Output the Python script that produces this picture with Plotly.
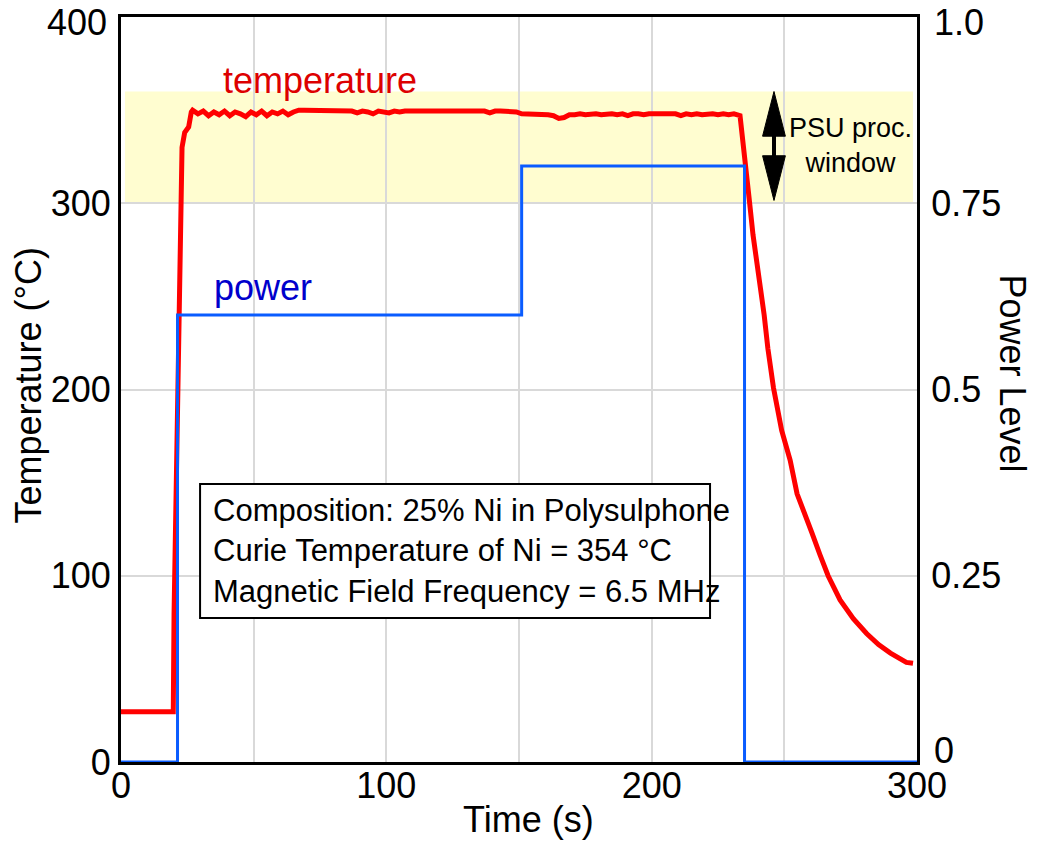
import plotly.graph_objects as go

# ---------------- data ----------------
rise_time = [0, 10, 19.7, 20.0, 20.8, 21.5, 22.3, 23.0, 24.0, 25.5, 26.5]
rise_vals = [27, 27, 27, 80, 150, 220, 290, 330, 338, 341, 349]

plateau_time = [27, 29, 31, 33, 35, 37, 39, 41, 43, 45, 47, 49, 51, 53, 55, 57, 59,
                61, 63, 65, 67, 69, 71, 73, 75, 77, 79, 81, 83, 85, 87, 89, 91, 93,
                95, 97, 99, 101, 103, 105, 107, 109, 111, 113, 115, 117, 119, 121,
                123, 125, 127, 129, 131, 133, 135, 137, 139, 141, 143, 145, 147, 149,
                151, 153, 155, 157, 159, 161, 163, 165, 167, 169, 171, 173, 175, 177,
                179, 181, 183, 185, 187, 189, 191, 193, 195, 197, 199, 201, 203, 205,
                207, 209, 211, 213, 215, 217, 219, 221, 223, 225, 227, 229, 231]
plateau_vals = [350, 348, 349.5, 347, 349, 347.5, 349.5, 347, 349, 348, 346.5, 349,
                347.5, 349.5, 347, 349, 348, 349.5, 347.5, 349, 350, 350, 350, 350,
                350, 350, 350, 350, 350, 350, 349.5, 348.5, 349.5, 349, 348, 349.5,
                349, 348.5, 349.5, 349, 349.5, 349.5, 349.5, 349.5, 349.5, 349.5,
                349.5, 349.5, 349.5, 349, 349.5, 349.5, 349.5, 349.5, 349.5, 349.5,
                348.5, 349.5, 349.5, 349.5, 349.5, 349, 348, 348, 347.5, 347.5, 348,
                347.5, 347, 345.5, 346, 347.5, 347.5, 348, 347.5, 348, 348, 347.5,
                348, 348, 347.5, 348, 347, 348, 348, 347.5, 348, 348, 347.5, 348,
                347.5, 348, 347, 348, 347.5, 348, 347.5, 348, 348, 347.5, 348,
                347.5, 348]

decay_time = [233.3, 235.2, 236.8, 238.2, 240.5, 242.4, 243.8, 245.9, 249, 252.2,
              254.8, 257.5, 260.4, 263.5, 266.5, 271, 276, 281, 285.5, 290, 294,
              296, 298.5]
decay_vals = [347, 319.5, 301.7, 283, 260, 240, 222, 201, 178, 162,
              144, 133, 123, 111, 100, 87, 77, 69, 63, 58.5, 55,
              53.5, 53]

temp_time = rise_time + plateau_time + decay_time
temp_vals = rise_vals + plateau_vals + decay_vals

power_time = [0, 21.3, 151, 235, 300]
power_vals = [0, 0.6, 0.8, 0, 0]

band_low, band_high = 300, 360          # PSU processing window (°C)
band_x = [1.5, 298.5]
arrow_time = 246.1
arrow_top, arrow_bottom = 360, 301.5
head_len = 24          # °C
head_half = 4.3        # s

info_box_x = [29.8, 222]
info_box_y = [77.3, 149.3]

x_tickvals = [0, 50, 100, 150, 200, 250, 300]
x_ticktext = ["0", "", "100", "", "200", "", "300"]
y_tickvals = [0, 100, 200, 300, 400]
y_ticktext = ["0", "100", "200", "300", ""]
y_top_label = "400"
y2_tickvals = [0, 0.25, 0.5, 0.75, 1.0]
y2_ticktext = ["", "0.25", "0.5", "0.75", ""]
y2_zero_label = "0"
y2_top_label = "1.0"

info_lines = ["Composition: 25% Ni in Polysulphone",
              "Curie Temperature of Ni = 354 °C",
              "Magnetic Field Frequency = 6.5 MHz"]

FONT = "Liberation Sans, Arial, sans-serif"
RED = "#FF0000"
BLUE = "#0A5CFF"
TICKFONT = dict(family=FONT, size=36, color="black")

fig = go.Figure()

fig.add_trace(go.Scatter(x=power_time, y=power_vals, mode="lines",
                         line=dict(color=BLUE, width=3, shape="hv"),
                         yaxis="y2", showlegend=False, hoverinfo="skip"))
fig.add_trace(go.Scatter(x=temp_time, y=temp_vals, mode="lines",
                         line=dict(color=RED, width=5),
                         showlegend=False, hoverinfo="skip"))

# shaded PSU window
fig.add_shape(type="rect", xref="x", yref="y", x0=band_x[0], x1=band_x[1],
              y0=band_low, y1=band_high, fillcolor="#FFFDD0",
              line=dict(width=0), layer="below")

# info box
fig.add_shape(type="rect", xref="x", yref="y", x0=info_box_x[0], x1=info_box_x[1],
              y0=info_box_y[0], y1=info_box_y[1], fillcolor="white",
              line=dict(color="black", width=2), layer="above")
fig.add_annotation(xref="x", yref="y", x=34.0, y=113.5, xanchor="left",
                   yanchor="middle", align="left", showarrow=False,
                   text="<br>".join(info_lines),
                   font=dict(family=FONT, size=31, color="black"))

# labels
fig.add_annotation(xref="x", yref="y", x=75, y=366, text="temperature",
                   showarrow=False, font=dict(family=FONT, size=36, color="#DD0000"))
fig.add_annotation(xref="x", yref="y", x=53.5, y=255, text="power",
                   showarrow=False, font=dict(family=FONT, size=36, color="#0000CC"))

# double-headed arrow (stem + two heads)
fig.add_shape(type="line", xref="x", yref="y", x0=arrow_time, x1=arrow_time,
              y0=arrow_bottom + head_len - 1, y1=arrow_top - head_len + 1,
              line=dict(color="black", width=4), layer="above")
for tip, sgn in ((arrow_top, -1), (arrow_bottom, 1)):
    base = tip + sgn * head_len
    path = (f"M {arrow_time},{tip} L {arrow_time - head_half},{base} "
            f"L {arrow_time + head_half},{base} Z")
    fig.add_shape(type="path", xref="x", yref="y", path=path,
                  fillcolor="black", line=dict(color="black", width=1), layer="above")

fig.add_annotation(xref="x", yref="y", x=275, y=331, text="PSU proc.<br>window",
                   showarrow=False, align="center",
                   font=dict(family=FONT, size=27, color="black"))

# edge tick labels placed as annotations so they stay inside the page
fig.add_annotation(xref="paper", yref="paper", x=1, y=0, xshift=15, yshift=12,
                   xanchor="left", yanchor="middle", text=y2_zero_label,
                   showarrow=False, font=TICKFONT)
fig.add_annotation(xref="paper", yref="paper", x=1, y=1, xshift=15, yshift=17,
                   xanchor="left", yanchor="top", text=y2_top_label,
                   showarrow=False, font=TICKFONT)
fig.add_annotation(xref="paper", yref="paper", x=0, y=1, xshift=-12, yshift=17,
                   xanchor="right", yanchor="top", text=y_top_label,
                   showarrow=False, font=TICKFONT)

# axis titles
fig.add_annotation(xref="paper", yref="paper", x=0, y=0.5, xshift=-93, yshift=4,
                   xanchor="center", yanchor="middle",
                   text="Temperature (°C)", textangle=-90, showarrow=False,
                   font=dict(family=FONT, size=36, color="black"))
fig.add_annotation(xref="paper", yref="paper", x=1, y=0.5, xshift=95, yshift=16,
                   xanchor="center", yanchor="middle",
                   text="Power Level", textangle=90, showarrow=False,
                   font=dict(family=FONT, size=36, color="black"))
fig.add_annotation(xref="paper", yref="paper", x=0.5, y=0, xshift=9, yshift=-57,
                   xanchor="center", yanchor="middle",
                   text="Time (s)", showarrow=False,
                   font=dict(family=FONT, size=36, color="black"))

axis_common = dict(showline=True, linecolor="black", linewidth=3,
                   zeroline=False, ticklabeloverflow="allow", automargin=False,
                   tickfont=TICKFONT, tickcolor="rgba(0,0,0,0)")

fig.update_layout(
    width=1039, height=843,
    margin=dict(l=121, r=122, t=17, b=81, autoexpand=False),
    paper_bgcolor="white", plot_bgcolor="white",
    xaxis=dict(range=[0, 300], tickvals=x_tickvals, ticktext=x_ticktext,
               mirror=True, ticks="", ticklabelstandoff=-10,
               gridcolor="#D9D9D9", gridwidth=2, **axis_common),
    yaxis=dict(range=[0, 400], tickvals=y_tickvals, ticktext=y_ticktext, ticks="",
               gridcolor="#D9D9D9", gridwidth=2, **axis_common),
    yaxis2=dict(range=[0, 1], tickvals=y2_tickvals, ticktext=y2_ticktext,
                overlaying="y", side="right", showgrid=False,
                ticks="outside", ticklen=4, **axis_common),
)

fig.write_html("out.html")
